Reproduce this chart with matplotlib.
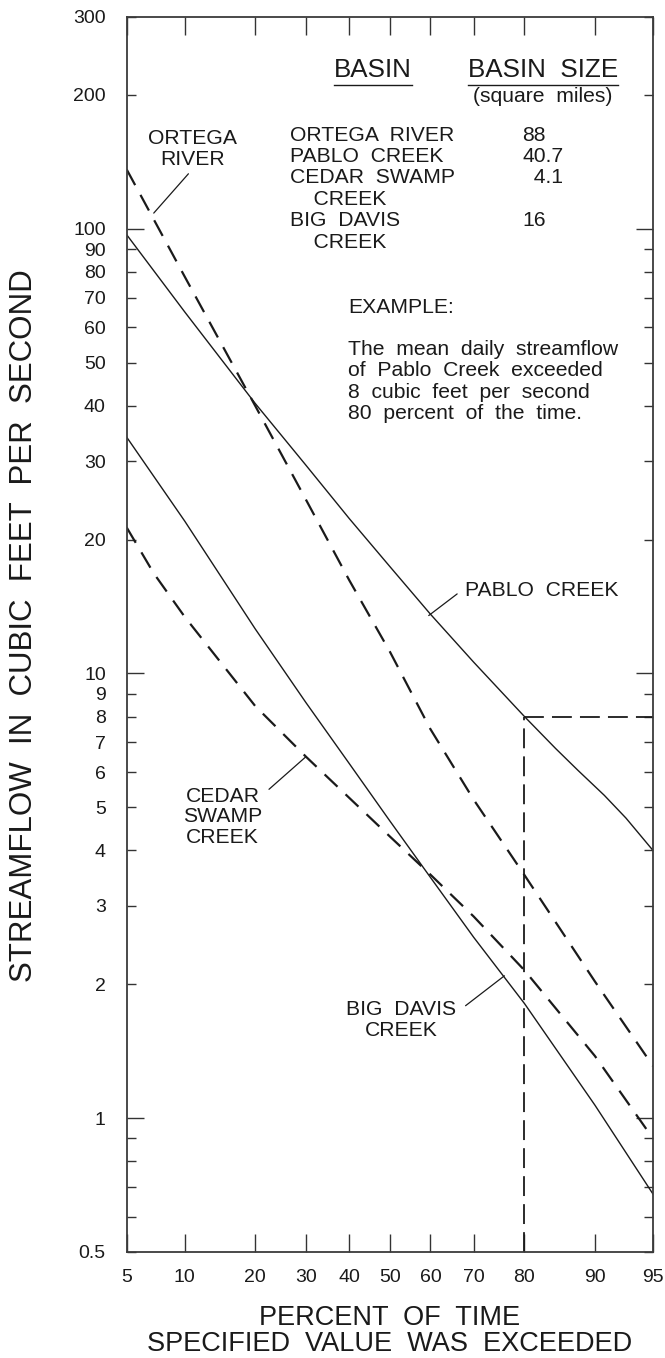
import numpy as np
import matplotlib
matplotlib.use("Agg")
import matplotlib.pyplot as plt
from matplotlib.ticker import FixedLocator, FuncFormatter, NullLocator
from statistics import NormalDist

plt.rcParams['font.family'] = ['Liberation Sans', 'DejaVu Sans']

# percent of time the flow was exceeded, and flow in cubic feet per second,
# read off the four duration curves
pct = [5, 10, 20, 30, 40, 50, 60, 70, 80, 90, 95]
ortega_cfs = [136, 78, 40, 24.6, 16.2, 11.2, 7.5, 5.2, 3.52, 2.03, 1.31]
bigdavis_cfs = [34, 22, 12.6, 8.6, 6.27, 4.66, 3.48, 2.55, 1.81, 1.07, 0.675]

cedar_pct = [5, 7, 10, 20, 30, 40, 50, 60, 70, 80, 90, 95]
cedar_cfs = [21.3, 16.8, 13.4, 8.45, 6.5, 5.25, 4.3, 3.53, 2.84, 2.15, 1.38, 0.9]

pablo_pct = [5, 10, 20, 30, 40, 50, 60, 70, 80, 85, 88, 91, 93, 95]
pablo_cfs = [97, 65, 40.5, 29.4, 22.3, 17.4, 13.6, 10.6, 8.0, 6.78, 6.06, 5.32, 4.73, 4.0]

# worked example: Pablo Creek, 8 cfs exceeded 80 percent of the time
example_pct = 80
example_cfs = 8

basins = ["ORTEGA  RIVER", "PABLO  CREEK", "CEDAR  SWAMP\n    CREEK", "BIG  DAVIS\n    CREEK"]
basin_size = ["88", "40.7", "  4.1\n", "16"]

x_ticks = [5, 10, 20, 30, 40, 50, 60, 70, 80, 90, 95]
y_major = [1, 10, 100]
y_minor = [0.5, 0.6, 0.7, 0.8, 0.9, 2, 3, 4, 5, 6, 7, 8, 9,
           20, 30, 40, 50, 60, 70, 80, 90, 200, 300]

ink = '#1a1a1a'

# normal probability scale for the x axis
_nd = NormalDist()
_ppf = np.vectorize(_nd.inv_cdf, otypes=[float])
_cdf = np.vectorize(_nd.cdf, otypes=[float])


def prob_fwd(p):
    p = np.clip(np.asarray(p, dtype=float) / 100.0, 1e-9, 1 - 1e-9)
    return _ppf(p)


def prob_inv(z):
    return _cdf(np.asarray(z, dtype=float)) * 100.0


fig = plt.figure(figsize=(6.65, 13.58), dpi=100)
ax = fig.add_axes([126.7 / 665, 1 - 1252 / 1358, 526.3 / 665, 1235.3 / 1358])

ax.set_xscale('function', functions=(prob_fwd, prob_inv))
ax.set_yscale('log')
ax.set_xlim(5, 95)
ax.set_ylim(0.5, 300)

# curves
ax.plot(pablo_pct, pablo_cfs, color=ink, lw=1.0)
ax.plot(pct, bigdavis_cfs, color=ink, lw=1.0)
l1, = ax.plot(pct, ortega_cfs, color=ink, lw=1.6)
l2, = ax.plot(cedar_pct, cedar_cfs, color=ink, lw=1.6)
for ln in (l1, l2):
    ln.set_dashes((8, 5))

# example lines
e1, = ax.plot([example_pct, example_pct], [0.5, example_cfs], color=ink, lw=1.3)
e2, = ax.plot([example_pct, 95], [example_cfs, example_cfs], color=ink, lw=1.3)
for ln in (e1, e2):
    ln.set_dashes((11, 4.5))
    ln.set_clip_on(False)

# ticks
ax.xaxis.set_major_locator(FixedLocator(x_ticks))
ax.xaxis.set_major_formatter(FuncFormatter(lambda v, p: f"{v:g}"))
ax.xaxis.set_minor_locator(NullLocator())
ax.yaxis.set_major_locator(FixedLocator(y_major))
ax.yaxis.set_minor_locator(FixedLocator(y_minor))
ax.yaxis.set_major_formatter(FuncFormatter(lambda v, p: f"{v:g}"))
ax.yaxis.set_minor_formatter(FuncFormatter(
    lambda v, p: '' if 0.55 < v < 0.95 else f"{v:g}"))

ax.tick_params(axis='both', which='both', direction='in', top=True, right=True,
               labelright=False, labeltop=False, width=1.0, color='#333333',
               labelsize=14, labelcolor=ink)
ax.tick_params(axis='y', which='major', length=12, pad=15)
ax.tick_params(axis='y', which='minor', length=6.5, pad=15)
ax.tick_params(axis='x', which='major', length=13, pad=12)

for sp in ax.spines.values():
    sp.set_linewidth(1.3)
    sp.set_color('#3a3a3a')

# axis titles
ax.set_ylabel("STREAMFLOW  IN  CUBIC  FEET  PER  SECOND", fontsize=22.5, color=ink)
ax.yaxis.label.set_va('center')
ax.yaxis.set_label_coords(-0.195, 0.507)
ax.set_xlabel("PERCENT  OF  TIME\nSPECIFIED  VALUE  WAS  EXCEEDED",
              fontsize=19.5, color=ink, linespacing=1.0)
ax.xaxis.set_label_coords(0.5, -0.0425)

# curve labels with leader lines
lead = dict(arrowstyle='-', lw=0.9, color=ink, shrinkA=0, shrinkB=0)
tfs = 15.2
ax.text(10.9, 151, "ORTEGA\nRIVER", ha='center', va='center', fontsize=tfs,
        color=ink, linespacing=1.12)
ax.annotate('', xy=(7.0, 108.5), xytext=(10.4, 133), arrowprops=lead)
ax.text(68.1, 15.4, "PABLO  CREEK", ha='left', va='center', fontsize=tfs, color=ink)
ax.annotate('', xy=(59.6, 13.5), xytext=(66.3, 15.1), arrowprops=lead)
ax.text(14.8, 4.76, "CEDAR\nSWAMP\nCREEK", ha='center', va='center', fontsize=tfs,
        color=ink, linespacing=1.12)
ax.annotate('', xy=(30.0, 6.5), xytext=(22.5, 5.49), arrowprops=lead)
ax.text(52.8, 1.66, "BIG  DAVIS\nCREEK", ha='center', va='center', fontsize=tfs,
        color=ink, linespacing=1.12)
ax.annotate('', xy=(76.3, 2.09), xytext=(68.2, 1.79), arrowprops=lead)

# basin table
h1 = ax.text(0.468, 0.957, "BASIN", transform=ax.transAxes, ha='center',
             va='center', fontsize=18.7, color=ink)
h2 = ax.text(0.791, 0.957, "BASIN  SIZE", transform=ax.transAxes, ha='center',
             va='center', fontsize=18.7, color=ink)
ax.text(0.791, 0.935, "(square  miles)", transform=ax.transAxes, ha='center',
        va='center', fontsize=tfs, color=ink)
ax.text(0.311, 0.9119, "\n".join(basins), transform=ax.transAxes, ha='left',
        va='top', fontsize=tfs, color=ink, linespacing=1.16)
ax.text(0.7511, 0.9119, "\n".join(basin_size), transform=ax.transAxes, ha='left',
        va='top', fontsize=tfs, color=ink, linespacing=1.16)

ax.text(0.4214, 0.7725, "EXAMPLE:", transform=ax.transAxes, ha='left', va='top',
        fontsize=tfs, color=ink)
ax.text(0.4214, 0.7384,
        "The  mean  daily  streamflow\nof  Pablo  Creek  exceeded\n"
        "8  cubic  feet  per  second\n80  percent  of  the  time.",
        transform=ax.transAxes, ha='left', va='top', fontsize=tfs, color=ink,
        linespacing=1.16)

# underline the table headings
fig.canvas.draw()
inv = ax.transAxes.inverted()
for t in (h1, h2):
    bb = t.get_window_extent()
    (x0, y0), (x1, _) = inv.transform([[bb.x0, bb.y0 - 3], [bb.x1, bb.y1]])
    ax.plot([x0, x1], [y0, y0], transform=ax.transAxes, color=ink, lw=1.0)

fig.savefig("out.png", dpi=100)
